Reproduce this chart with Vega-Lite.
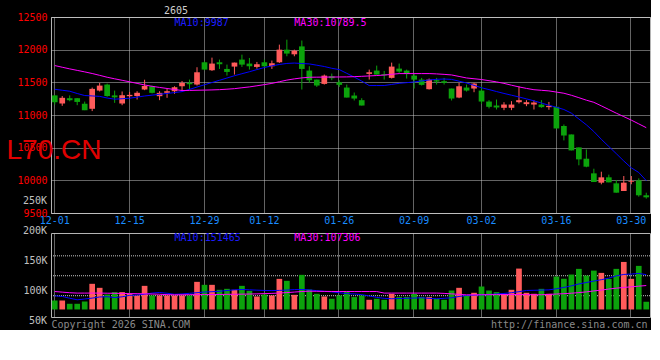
{
  "$schema": "https://vega.github.io/schema/vega-lite/v6.json",
  "background": "#000000",
  "padding": {"left": 5, "top": 5, "right": 0, "bottom": 0},
  "spacing": 20,
  "bounds": "flush",
  "datasets": {
    "k": [
{"d":"2025-12-01","o":11300,"h":11300,"l":11160,"c":11195,"v":83800,"m10":11394,"m30":11757,"vm10":91700,"vm30":98800},
{"d":"2025-12-02","o":11176,"h":11290,"l":11140,"c":11263,"v":83800,"m10":11379,"m30":11731,"vm10":90500,"vm30":97800},
{"d":"2025-12-03","o":11257,"h":11300,"l":11210,"c":11226,"v":78300,"m10":11364,"m30":11706,"vm10":87600,"vm30":96800},
{"d":"2025-12-04","o":11257,"h":11260,"l":11150,"c":11200,"v":78300,"m10":11329,"m30":11683,"vm10":85000,"vm30":96200},
{"d":"2025-12-05","o":11171,"h":11205,"l":11074,"c":11074,"v":82200,"m10":11298,"m30":11660,"vm10":86300,"vm30":96200},
{"d":"2025-12-08","o":11095,"h":11420,"l":11060,"c":11400,"v":111700,"m10":11292,"m30":11635,"vm10":87800,"vm30":96200},
{"d":"2025-12-09","o":11374,"h":11490,"l":11360,"c":11450,"v":105000,"m10":11285,"m30":11607,"vm10":89700,"vm30":96200},
{"d":"2025-12-10","o":11466,"h":11480,"l":11280,"c":11290,"v":93800,"m10":11260,"m30":11578,"vm10":90100,"vm30":96000},
{"d":"2025-12-11","o":11300,"h":11374,"l":11186,"c":11270,"v":97800,"m10":11242,"m30":11554,"vm10":88600,"vm30":95800},
{"d":"2025-12-12","o":11176,"h":11360,"l":11150,"c":11303,"v":97800,"m10":11249,"m30":11531,"vm10":90000,"vm30":95600},
{"d":"2025-12-15","o":11288,"h":11354,"l":11252,"c":11308,"v":95000,"m10":11257,"m30":11508,"vm10":92400,"vm30":95400},
{"d":"2025-12-16","o":11290,"h":11364,"l":11237,"c":11340,"v":92200,"m10":11274,"m30":11484,"vm10":93000,"vm30":95200},
{"d":"2025-12-17","o":11390,"h":11540,"l":11380,"c":11445,"v":108300,"m10":11291,"m30":11460,"vm10":94200,"vm30":95000},
{"d":"2025-12-18","o":11440,"h":11450,"l":11330,"c":11339,"v":92200,"m10":11304,"m30":11439,"vm10":96200,"vm30":94600},
{"d":"2025-12-19","o":11288,"h":11364,"l":11227,"c":11339,"v":92200,"m10":11317,"m30":11422,"vm10":97200,"vm30":94200},
{"d":"2025-12-22","o":11339,"h":11400,"l":11263,"c":11364,"v":92200,"m10":11330,"m30":11406,"vm10":95900,"vm30":93600},
{"d":"2025-12-23","o":11364,"h":11440,"l":11324,"c":11425,"v":92200,"m10":11343,"m30":11390,"vm10":94200,"vm30":93300},
{"d":"2025-12-24","o":11440,"h":11520,"l":11364,"c":11491,"v":92200,"m10":11358,"m30":11375,"vm10":94800,"vm30":93400},
{"d":"2025-12-25","o":11491,"h":11542,"l":11390,"c":11471,"v":92200,"m10":11392,"m30":11376,"vm10":95800,"vm30":93500},
{"d":"2025-12-26","o":11466,"h":11731,"l":11451,"c":11654,"v":115000,"m10":11428,"m30":11379,"vm10":96900,"vm30":93600},
{"d":"2025-12-29","o":11807,"h":11820,"l":11685,"c":11695,"v":110000,"m10":11463,"m30":11381,"vm10":98000,"vm30":93700},
{"d":"2025-12-30","o":11685,"h":11878,"l":11675,"c":11787,"v":110000,"m10":11497,"m30":11384,"vm10":98500,"vm30":93800},
{"d":"2025-12-31","o":11807,"h":11848,"l":11705,"c":11777,"v":101700,"m10":11531,"m30":11388,"vm10":99200,"vm30":93900},
{"d":"2026-01-05","o":11705,"h":11772,"l":11603,"c":11659,"v":103300,"m10":11566,"m30":11395,"vm10":100500,"vm30":94100},
{"d":"2026-01-06","o":11741,"h":11802,"l":11619,"c":11802,"v":101700,"m10":11601,"m30":11403,"vm10":101600,"vm30":94200},
{"d":"2026-01-07","o":11848,"h":11924,"l":11736,"c":11771,"v":108300,"m10":11632,"m30":11417,"vm10":102200,"vm30":94400},
{"d":"2026-01-08","o":11787,"h":11873,"l":11695,"c":11746,"v":100000,"m10":11662,"m30":11430,"vm10":101700,"vm30":94600},
{"d":"2026-01-09","o":11736,"h":11812,"l":11710,"c":11777,"v":90500,"m10":11695,"m30":11447,"vm10":101100,"vm30":94900},
{"d":"2026-01-12","o":11807,"h":11848,"l":11730,"c":11746,"v":93800,"m10":11727,"m30":11465,"vm10":100600,"vm30":95300},
{"d":"2026-01-13","o":11746,"h":11833,"l":11705,"c":11792,"v":92200,"m10":11752,"m30":11484,"vm10":100400,"vm30":95700},
{"d":"2026-01-14","o":11807,"h":12077,"l":11797,"c":12000,"v":120000,"m10":11773,"m30":11509,"vm10":100700,"vm30":96300},
{"d":"2026-01-15","o":12000,"h":12153,"l":11899,"c":11940,"v":116700,"m10":11789,"m30":11534,"vm10":101200,"vm30":97000},
{"d":"2026-01-16","o":11929,"h":12000,"l":11899,"c":11985,"v":93300,"m10":11795,"m30":11553,"vm10":102000,"vm30":97900},
{"d":"2026-01-19","o":12050,"h":12140,"l":11390,"c":11705,"v":126700,"m10":11788,"m30":11568,"vm10":102200,"vm30":98800},
{"d":"2026-01-20","o":11680,"h":11746,"l":11491,"c":11532,"v":102200,"m10":11782,"m30":11578,"vm10":101500,"vm30":99400},
{"d":"2026-01-21","o":11542,"h":11542,"l":11430,"c":11451,"v":95000,"m10":11762,"m30":11579,"vm10":100300,"vm30":99200},
{"d":"2026-01-22","o":11476,"h":11619,"l":11466,"c":11603,"v":90500,"m10":11742,"m30":11580,"vm10":99200,"vm30":99000},
{"d":"2026-01-23","o":11593,"h":11634,"l":11532,"c":11563,"v":86700,"m10":11715,"m30":11581,"vm10":98200,"vm30":98900},
{"d":"2026-01-26","o":11502,"h":11532,"l":11430,"c":11461,"v":92200,"m10":11695,"m30":11582,"vm10":96800,"vm30":98800},
{"d":"2026-01-27","o":11420,"h":11466,"l":11267,"c":11267,"v":97800,"m10":11638,"m30":11583,"vm10":95200,"vm30":98800},
{"d":"2026-01-28","o":11298,"h":11344,"l":11222,"c":11252,"v":89500,"m10":11580,"m30":11587,"vm10":94800,"vm30":98800},
{"d":"2026-01-29","o":11227,"h":11257,"l":11145,"c":11145,"v":92200,"m10":11519,"m30":11592,"vm10":93600,"vm30":98800},
{"d":"2026-01-30","o":11629,"h":11695,"l":11542,"c":11654,"v":85000,"m10":11451,"m30":11598,"vm10":91400,"vm30":98800},
{"d":"2026-02-02","o":11680,"h":11756,"l":11619,"c":11619,"v":86700,"m10":11451,"m30":11604,"vm10":89000,"vm30":98800},
{"d":"2026-02-03","o":11624,"h":11675,"l":11542,"c":11609,"v":85000,"m10":11451,"m30":11611,"vm10":87400,"vm30":96200},
{"d":"2026-02-04","o":11568,"h":11802,"l":11558,"c":11741,"v":95000,"m10":11468,"m30":11623,"vm10":86700,"vm30":96200},
{"d":"2026-02-05","o":11710,"h":11787,"l":11644,"c":11665,"v":89500,"m10":11485,"m30":11634,"vm10":87100,"vm30":96200},
{"d":"2026-02-06","o":11680,"h":11695,"l":11558,"c":11629,"v":89500,"m10":11495,"m30":11634,"vm10":87500,"vm30":96200},
{"d":"2026-02-09","o":11603,"h":11644,"l":11405,"c":11542,"v":95000,"m10":11506,"m30":11634,"vm10":87900,"vm30":96200},
{"d":"2026-02-10","o":11542,"h":11568,"l":11451,"c":11461,"v":89500,"m10":11521,"m30":11634,"vm10":88300,"vm30":96200},
{"d":"2026-02-11","o":11395,"h":11558,"l":11390,"c":11542,"v":89500,"m10":11536,"m30":11634,"vm10":87400,"vm30":96200},
{"d":"2026-02-12","o":11532,"h":11568,"l":11466,"c":11512,"v":86700,"m10":11546,"m30":11629,"vm10":86700,"vm30":96200},
{"d":"2026-02-13","o":11517,"h":11568,"l":11466,"c":11491,"v":85000,"m10":11551,"m30":11622,"vm10":87500,"vm30":95700},
{"d":"2026-02-24","o":11405,"h":11405,"l":11222,"c":11252,"v":100500,"m10":11545,"m30":11613,"vm10":88300,"vm30":94900},
{"d":"2026-02-25","o":11267,"h":11491,"l":11257,"c":11440,"v":105000,"m10":11518,"m30":11590,"vm10":90500,"vm30":94000},
{"d":"2026-02-26","o":11420,"h":11466,"l":11359,"c":11374,"v":92200,"m10":11490,"m30":11567,"vm10":92300,"vm30":93200},
{"d":"2026-02-27","o":11405,"h":11491,"l":11349,"c":11481,"v":96700,"m10":11453,"m30":11555,"vm10":92800,"vm30":93300},
{"d":"2026-03-02","o":11374,"h":11440,"l":11171,"c":11206,"v":107200,"m10":11417,"m30":11543,"vm10":93300,"vm30":93400},
{"d":"2026-03-03","o":11206,"h":11227,"l":11100,"c":11125,"v":100500,"m10":11389,"m30":11525,"vm10":93700,"vm30":93500},
{"d":"2026-03-04","o":11145,"h":11237,"l":11084,"c":11115,"v":97800,"m10":11359,"m30":11507,"vm10":94800,"vm30":93600},
{"d":"2026-03-05","o":11110,"h":11196,"l":11074,"c":11160,"v":95000,"m10":11330,"m30":11484,"vm10":95600,"vm30":93700},
{"d":"2026-03-06","o":11110,"h":11212,"l":11074,"c":11160,"v":101700,"m10":11303,"m30":11456,"vm10":96900,"vm30":93800},
{"d":"2026-03-09","o":11196,"h":11440,"l":11176,"c":11227,"v":137200,"m10":11276,"m30":11430,"vm10":98500,"vm30":93700},
{"d":"2026-03-10","o":11166,"h":11227,"l":11135,"c":11196,"v":96700,"m10":11247,"m30":11407,"vm10":100600,"vm30":93600},
{"d":"2026-03-11","o":11160,"h":11227,"l":11084,"c":11191,"v":95000,"m10":11217,"m30":11387,"vm10":100900,"vm30":93400},
{"d":"2026-03-12","o":11160,"h":11227,"l":11110,"c":11120,"v":103300,"m10":11183,"m30":11378,"vm10":101200,"vm30":93400},
{"d":"2026-03-13","o":11120,"h":11200,"l":11080,"c":11140,"v":95000,"m10":11149,"m30":11369,"vm10":101600,"vm30":94000},
{"d":"2026-03-16","o":11125,"h":11135,"l":10794,"c":10794,"v":123800,"m10":11119,"m30":11351,"vm10":103400,"vm30":94600},
{"d":"2026-03-17","o":10830,"h":10855,"l":10611,"c":10687,"v":120000,"m10":11084,"m30":11333,"vm10":105700,"vm30":95200},
{"d":"2026-03-18","o":10702,"h":10702,"l":10458,"c":10458,"v":127200,"m10":11028,"m30":11302,"vm10":108300,"vm30":96000},
{"d":"2026-03-19","o":10504,"h":10504,"l":10230,"c":10321,"v":136700,"m10":10939,"m30":11265,"vm10":111500,"vm30":97000},
{"d":"2026-03-20","o":10331,"h":10473,"l":10200,"c":10209,"v":125500,"m10":10850,"m30":11227,"vm10":113900,"vm30":98200},
{"d":"2026-03-23","o":10107,"h":10178,"l":9974,"c":9974,"v":133800,"m10":10747,"m30":11194,"vm10":116300,"vm30":99800},
{"d":"2026-03-24","o":9964,"h":10132,"l":9939,"c":10046,"v":130000,"m10":10628,"m30":11140,"vm10":118600,"vm30":101200},
{"d":"2026-03-25","o":10046,"h":10087,"l":9969,"c":9969,"v":120000,"m10":10518,"m30":11084,"vm10":121200,"vm30":103000},
{"d":"2026-03-26","o":9954,"h":10005,"l":9811,"c":9811,"v":136700,"m10":10408,"m30":11028,"vm10":125000,"vm30":104400},
{"d":"2026-03-27","o":9837,"h":10066,"l":9837,"c":9964,"v":148300,"m10":10296,"m30":10975,"vm10":127400,"vm30":105600},
{"d":"2026-03-30","o":9979,"h":10066,"l":9940,"c":9990,"v":120000,"m10":10192,"m30":10922,"vm10":128000,"vm30":106700},
{"d":"2026-03-31","o":9999,"h":10030,"l":9750,"c":9771,"v":141700,"m10":10120,"m30":10864,"vm10":129100,"vm30":107800},
{"d":"2026-04-01","o":9771,"h":9810,"l":9720,"c":9740,"v":81700,"m10":9995,"m30":10806,"vm10":127000,"vm30":108800}
    ],
    "vgrid": [{"g": 158500}, {"g": 125200}, {"g": 91800}],
    "vlab": [{"y": 250000, "t": "250K"}, {"y": 200000, "t": "200K"}, {"y": 50000, "t": "50K"}]
  },
  "vconcat": [
    {
      "width": 599,
      "height": 196,
      "title": {"text": "2605", "anchor": "start", "frame": "group", "dx": 113, "offset": -3.5, "fontSize": 10, "font": "DejaVu Sans Mono", "fontWeight": "normal", "color": "#cfcfcf"},
      "layer": [
        {
          "data": {"name": "k"},
          "mark": {"type": "rule", "strokeWidth": 1},
          "encoding": {
            "x": {"field": "d", "type": "ordinal", "scale": {"type": "band", "paddingInner": 0, "paddingOuter": 0},
              "axis": {"values": ["2025-12-01","2025-12-15","2025-12-29","2026-01-12","2026-01-26","2026-02-09","2026-03-02","2026-03-16","2026-03-30"],
                "labelExpr": "slice(datum.value, 5)", "title": null, "labelAngle": 0, "labelColor": "#1a8cff", "labelFont": "DejaVu Sans Mono", "labelFontSize": 10,
                "labelPadding": 2, "ticks": false, "domain": false, "grid": true, "gridColor": "#c8c8c8", "gridDash": [1, 1], "bandPosition": 0.45}},
            "y": {"field": "l", "type": "quantitative", "scale": {"domain": [9500, 12500], "nice": false, "zero": false},
              "axis": {"values": [9500, 10000, 10500, 11000, 11500, 12000, 12500], "tickCount": 20, "format": "d", "title": "L70.CN", "titleAngle": 0, "titleAlign": "left", "titleBaseline": "middle",
                "titleX": -45, "titleY": 133, "titleColor": "#e00000", "titleFont": "Liberation Sans", "titleFontSize": 28, "titleFontWeight": "normal",
                "labelColor": "#ff0000", "labelFont": "DejaVu Sans Mono", "labelFontSize": 10, "labelPadding": 4, "ticks": false, "domain": false,
                "grid": true, "gridColor": "#c8c8c8", "gridDash": [1, 1], "labelOverlap": false}},
            "y2": {"field": "h"},
            "color": {"condition": {"test": "datum.c >= datum.o", "value": "#ff5b5b"}, "value": "#0ca30c"}
          }
        },
        {
          "data": {"name": "k"},
          "mark": {"type": "bar", "width": {"band": 0.76}},
          "encoding": {
            "x": {"field": "d", "type": "ordinal"},
            "y": {"field": "o", "type": "quantitative"},
            "y2": {"field": "c"},
            "color": {"condition": {"test": "datum.c >= datum.o", "value": "#ff5b5b"}, "value": "#0ca30c"}
          }
        },
        {
          "data": {"name": "k"},
          "mark": {"type": "line", "color": "#0000ff", "strokeWidth": 1},
          "encoding": {"x": {"field": "d", "type": "ordinal"}, "y": {"field": "m10", "type": "quantitative"}}
        },
        {
          "data": {"name": "k"},
          "mark": {"type": "line", "color": "#ff00ff", "strokeWidth": 1},
          "encoding": {"x": {"field": "d", "type": "ordinal"}, "y": {"field": "m30", "type": "quantitative"}}
        },
        {
          "data": {"values": [{"d": "2025-12-23", "y": 12405, "t": "MA10:9987"}]},
          "mark": {"type": "text", "align": "left", "baseline": "middle", "color": "#1c1cff", "font": "DejaVu Sans Mono", "fontSize": 10},
          "encoding": {"x": {"field": "d", "type": "ordinal"}, "y": {"field": "y", "type": "quantitative"}, "text": {"field": "t"}}
        },
        {
          "data": {"values": [{"d": "2026-01-16", "y": 12405, "t": "MA30:10789.5"}]},
          "mark": {"type": "text", "align": "left", "baseline": "middle", "color": "#ff00ff", "font": "DejaVu Sans Mono", "fontSize": 10},
          "encoding": {"x": {"field": "d", "type": "ordinal"}, "y": {"field": "y", "type": "quantitative"}, "text": {"field": "t"}}
        }
      ]
    },
    {
      "width": 599,
      "height": 84,
      "layer": [
        {
          "data": {"name": "vgrid"},
          "mark": {"type": "rule", "color": "#c8c8c8", "strokeDash": [1, 1], "strokeWidth": 1},
          "encoding": {"y": {"field": "g", "type": "quantitative", "scale": {"domain": [56200, 196700], "nice": false, "zero": false},
            "axis": {"values": [100000, 150000], "tickCount": 20, "labelExpr": "datum.value / 1000 + 'K'", "title": null,
              "labelColor": "#c0c0c0", "labelFont": "DejaVu Sans Mono", "labelFontSize": 10, "labelPadding": 4, "ticks": false, "domain": false,
              "grid": false, "labelOverlap": false, "labelFlush": false}}}
        },
        {
          "data": {"name": "vlab"},
          "mark": {"type": "text", "align": "right", "baseline": "middle", "dx": -4, "color": "#c0c0c0", "font": "DejaVu Sans Mono", "fontSize": 10},
          "encoding": {"x": {"datum": "2025-12-01", "type": "ordinal", "bandPosition": 0}, "y": {"field": "y", "type": "quantitative"}, "text": {"field": "t"}}
        },
        {
          "data": {"name": "k"},
          "mark": {"type": "bar", "width": {"band": 0.76}},
          "encoding": {
            "x": {"field": "d", "type": "ordinal", "scale": {"type": "band", "paddingInner": 0, "paddingOuter": 0},
              "axis": {"values": ["2025-12-01","2025-12-15","2025-12-29","2026-01-12","2026-01-26","2026-02-09","2026-03-02","2026-03-16","2026-03-30"],
                "labels": false, "ticks": false, "domain": false, "grid": true, "gridColor": "#c8c8c8", "gridDash": [1, 1], "bandPosition": 0.45,
                "title": "Copyright 2026 SINA.COM\u00a0\u00a0\u00a0\u00a0\u00a0\u00a0\u00a0\u00a0\u00a0\u00a0\u00a0\u00a0\u00a0\u00a0\u00a0\u00a0\u00a0\u00a0\u00a0\u00a0\u00a0\u00a0\u00a0\u00a0\u00a0\u00a0\u00a0\u00a0\u00a0\u00a0\u00a0\u00a0\u00a0\u00a0\u00a0\u00a0\u00a0\u00a0\u00a0\u00a0\u00a0\u00a0\u00a0\u00a0\u00a0\u00a0\u00a0\u00a0\u00a0\u00a0http://finance.sina.com.cn",
                "titleAnchor": "start", "titleAlign": "left", "titleColor": "#8a8a8a", "titleFont": "DejaVu Sans Mono", "titleFontSize": 10,
                "titleFontWeight": "normal", "titlePadding": 2}},
            "y": {"field": "v", "type": "quantitative"},
            "y2": {"datum": 68800},
            "color": {"condition": {"test": "datum.c >= datum.o", "value": "#ff5b5b"}, "value": "#0ca30c"}
          }
        },
        {
          "data": {"name": "k"},
          "mark": {"type": "line", "color": "#0000ff", "strokeWidth": 1},
          "encoding": {"x": {"field": "d", "type": "ordinal"}, "y": {"field": "vm10", "type": "quantitative"}}
        },
        {
          "data": {"name": "k"},
          "mark": {"type": "line", "color": "#ff00ff", "strokeWidth": 1},
          "encoding": {"x": {"field": "d", "type": "ordinal"}, "y": {"field": "vm30", "type": "quantitative"}}
        },
        {
          "data": {"values": [{"d": "2025-12-23", "y": 189000, "t": "MA10:151465"}]},
          "mark": {"type": "text", "align": "left", "baseline": "middle", "color": "#1c1cff", "font": "DejaVu Sans Mono", "fontSize": 10},
          "encoding": {"x": {"field": "d", "type": "ordinal"}, "y": {"field": "y", "type": "quantitative"}, "text": {"field": "t"}}
        },
        {
          "data": {"values": [{"d": "2026-01-16", "y": 189000, "t": "MA30:107306"}]},
          "mark": {"type": "text", "align": "left", "baseline": "middle", "color": "#ff00ff", "font": "DejaVu Sans Mono", "fontSize": 10},
          "encoding": {"x": {"field": "d", "type": "ordinal"}, "y": {"field": "y", "type": "quantitative"}, "text": {"field": "t"}}
        }
      ]
    }
  ],
  "config": {
    "view": {"stroke": "#b4b4b4", "strokeWidth": 1},
    "font": "DejaVu Sans Mono",
    "axis": {"labelOverlap": false}
  }
}
